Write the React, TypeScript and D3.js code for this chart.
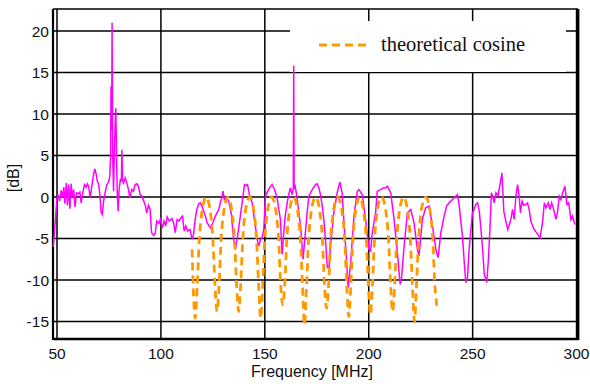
import React from "react";
import * as d3 from "d3";

// Measured spectrum (magenta)
const measFreq = [
  48.2, 49.0, 49.9, 50.5, 51.2, 52.0, 52.6, 53.3, 53.8, 54.5, 55.0, 55.6, 56.2, 56.8, 57.4, 58.0, 58.7, 59.4, 60.2, 61.0,
  61.6, 62.4, 63.2, 64.0, 64.6, 65.2, 66.0, 66.8, 67.5, 68.2, 68.8, 69.4, 70.0, 70.6, 71.2, 71.8, 72.4, 73.2, 74.0, 74.8,
  75.4, 75.8, 76.0, 76.3, 76.5, 76.8, 77.2, 77.6, 78.0, 78.3, 78.7, 79.0, 79.4, 79.9, 80.5, 81.0, 81.2, 81.6, 82.0, 82.8,
  83.6, 84.4, 85.0, 86.0, 86.8, 87.6, 88.4, 89.2, 90.0, 90.8, 91.6, 92.5, 93.2, 94.0, 94.8, 95.5, 96.5, 97.2, 98.0, 99.0,
  99.7, 100.7, 101.5, 102.3, 103.0, 104.0, 105.3, 106.2, 106.9, 107.8, 108.7, 109.6, 110.4, 111.2, 112.0, 112.8, 114.0, 115.0, 115.7, 116.5,
  117.3, 118.1, 118.9, 119.8, 120.6, 121.4, 122.2, 123.0, 123.8, 125.0, 126.2, 127.8, 128.6, 129.4, 129.9, 130.5, 131.5, 132.6, 133.8, 135.0,
  135.8, 136.9, 138.2, 139.5, 140.2, 141.0, 141.7, 142.7, 143.9, 145.0, 146.3, 147.1, 147.9, 148.7, 149.5, 150.3, 151.0, 152.0, 153.5, 154.5,
  155.8, 157.5, 158.3, 159.0, 159.8, 160.7, 161.5, 162.3, 163.1, 163.7, 163.9, 164.1, 164.6, 165.4, 166.2, 167.2, 168.4, 169.5, 170.5, 171.2,
  172.8, 174.4, 175.2, 176.0, 176.8, 177.6, 178.4, 179.3, 180.0, 180.8, 181.6, 183.2, 184.8, 186.1, 187.2, 188.0, 189.3, 190.1, 191.3, 192.9,
  194.5, 195.3, 196.9, 198.5, 200.1, 200.9, 201.7, 203.3, 204.1, 205.7, 207.0, 208.1, 209.0, 210.6, 212.2, 213.8, 215.1, 215.7, 217.0, 218.6,
  220.2, 221.8, 223.4, 224.2, 225.8, 227.4, 229.0, 230.7, 232.3, 233.4, 234.7, 236.3, 237.5, 238.7, 240.3, 241.9, 242.7, 243.5, 245.1, 246.0,
  246.7, 247.5, 248.3, 249.1, 249.9, 250.7, 251.5, 252.4, 253.2, 254.0, 254.8, 255.6, 256.8, 257.6, 258.4, 259.0, 259.8, 260.4, 261.2, 262.2,
  263.3, 264.1, 265.0, 265.8, 266.9, 267.7, 268.4, 269.2, 270.0, 270.8, 271.6, 272.4, 273.0, 273.8, 274.6, 275.6, 276.4, 277.2, 278.0, 279.6,
  281.3, 282.5, 283.7, 284.5, 285.3, 286.4, 287.2, 288.0, 288.8, 290.1, 290.9, 291.7, 292.5, 293.3, 294.4, 295.4, 296.2, 297.3, 298.1, 299.2,
];
const measDb = [
  -6.0, -3.5, -0.3, 0.3, -0.5, 0.8, 0.0, 1.2, -0.8, 1.7, -1.0, 1.5, -1.4, 1.6, 0.0, 0.9, -1.2, 0.5, 0.4, 0.6,
  -0.7, 0.5, 1.5, 1.2, 1.6, 1.3, -0.1, 1.4, 2.6, 3.4, 2.8, 1.9, 1.6, 0.4, -1.8, -2.1, -0.5, 0.6, 1.5, 1.8,
  2.5, 5.0, 13.3, 8.0, 21.0, 5.0, 0.7, 5.5, 9.0, 10.7, 4.0, 0.5, -1.7, 1.0, 2.1, 2.0, 5.7, 2.0, 1.7, 2.3,
  1.7, 0.9, -0.1, 0.9, 0.7, 1.5, 1.6, 1.3, 0.3, 0.1, -0.4, -1.0, -1.9, -1.0, -1.5, -4.3, -4.6, -4.4, -2.9, -3.2,
  -2.7, -3.7, -2.9, -3.5, -2.4, -2.9, -2.6, -3.2, -4.3, -2.7, -2.9, -2.5, -2.3, -4.1, -3.5, -4.1, -3.9, -5.1, -4.5, -2.7,
  -1.5, -0.9, -0.7, -1.1, -1.7, -2.3, -3.1, -3.4, -3.7, -3.1, -2.3, -1.5, -0.7, 0.1, 0.7, -0.3, -0.1, -0.5, -1.9, -5.1,
  -6.3, -4.7, -2.3, 0.1, 1.5, 1.4, 1.5, 0.1, -0.7, -2.7, -5.1, -5.9, -5.1, -4.9, -3.9, 0.1, 0.5, 1.0, 1.5, 1.0,
  0.0, -2.7, -6.9, -4.7, -2.3, -0.8, 0.3, 1.1, 0.3, 1.0, 15.8, 1.0, 1.3, 0.1, -1.5, -3.5, -7.5, -4.3, -1.5, 0.1,
  0.9, 1.5, 1.6, 1.1, 0.3, -1.0, -2.7, -5.5, -8.3, -8.7, -5.9, -1.9, 0.5, 1.8, 0.5, -2.7, -7.5, -10.9, -7.9, -2.3,
  0.7, 0.9, 0.3, -2.7, -6.3, -6.5, -4.3, -1.9, 0.7, 0.9, 1.1, 1.1, 1.3, 0.5, -2.7, -6.7, -10.5, -10.0, -6.0, -1.9,
  -1.5, -3.1, -6.3, -7.1, -2.7, -1.3, -1.1, -3.5, -6.3, -7.3, -4.3, -2.3, -1.1, -0.7, -0.3, 0.1, 0.3, -1.0, -4.7, -8.0,
  -10.3, -9.8, -6.3, -4.1, -1.9, -1.5, -0.9, -0.7, -1.7, -3.9, -6.3, -9.3, -10.3, -7.5, -3.5, 0.5, 0.0, -0.7, 0.5, 0.1,
  1.7, 2.9, -1.7, -2.7, -3.9, -3.3, -2.7, -1.5, -2.7, 0.1, 1.5, 0.1, -1.9, -0.5, -1.0, -0.9, -0.7, -1.5, -2.9, -3.9,
  -4.5, -4.9, -2.9, -0.7, -1.3, -0.7, -1.5, -0.7, -1.3, -2.7, -1.7, 0.1, -0.3, 0.5, 1.3, -0.9, -0.7, -2.7, -2.3, -3.3,
];

// Theoretical cosine (orange dashed)
const cosFreq = [
  115.0, 115.5, 116.5, 117.5, 118.5, 119.5, 120.5, 121.75, 123.0, 124.0, 125.0, 126.0, 127.0, 128.0, 129.0, 130.0, 131.0, 132.2, 133.4, 134.4,
  135.4, 136.4, 137.4, 138.4, 139.4, 140.4, 141.4, 142.7, 144.0, 145.0, 146.0, 147.0, 148.0, 149.0, 150.0, 151.0, 152.0, 153.3, 154.6, 155.6,
  156.6, 157.6, 158.6, 159.6, 160.6, 161.6, 162.6, 163.85, 165.1, 166.1, 167.1, 168.1, 169.1, 170.1, 171.1, 172.1, 173.1, 174.4, 175.7, 176.7,
  177.7, 178.7, 179.7, 180.7, 181.7, 182.7, 183.7, 185.05, 186.4, 187.4, 188.4, 189.4, 190.4, 191.4, 192.4, 193.4, 194.4, 195.6, 196.8, 197.8,
  198.8, 199.8, 200.8, 201.8, 202.8, 203.8, 204.8, 206.15, 207.5, 208.5, 209.5, 210.5, 211.5, 212.5, 213.5, 214.5, 215.5, 216.75, 218.0, 219.0,
  220.0, 221.0, 222.0, 223.0, 224.0, 225.0, 226.0, 227.4, 228.8, 229.8, 230.8, 231.8, 232.8,
];
const cosDb = [
  -6.3, -10.5, -14.6, -10.5, -5.0, -2.2, -0.7, 0, -0.7, -2.2, -5.0, -10.5, -13.8, -10.5, -5.0, -2.2, -0.7, 0, -0.7, -2.2,
  -5.0, -10.5, -13.8, -10.5, -5.0, -2.2, -0.7, 0, -0.7, -2.2, -5.0, -10.5, -14.6, -10.5, -5.0, -2.2, -0.7, 0, -0.7, -2.2,
  -5.0, -10.5, -13.0, -10.5, -5.0, -2.2, -0.7, 0, -0.7, -2.2, -5.0, -10.5, -15.4, -10.5, -5.0, -2.2, -0.7, 0, -0.7, -2.2,
  -5.0, -10.5, -13.4, -10.5, -5.0, -2.2, -0.7, 0, -0.7, -2.2, -5.0, -10.5, -14.4, -10.5, -5.0, -2.2, -0.7, 0, -0.7, -2.2,
  -5.0, -10.5, -14.2, -10.5, -5.0, -2.2, -0.7, 0, -0.7, -2.2, -5.0, -10.5, -13.8, -10.5, -5.0, -2.2, -0.7, 0, -0.7, -2.2,
  -5.0, -10.5, -15.0, -10.5, -5.0, -2.2, -0.7, 0, -0.7, -2.2, -5.0, -10.5, -13.1,
];

const xTicks = [50, 100, 150, 200, 250, 300];
const yTicks = [-15, -10, -5, 0, 5, 10, 15, 20];
const legendLabel = "theoretical cosine";
const xLabel = "Frequency [MHz]";
const yLabel = "[dB]";

const W = 590;
const H = 384;
const L = 53, R = 578, T = 9, B = 339;

export default function App() {
  const x = d3.scaleLinear().domain([48.07, 300.7]).range([L, R]);
  const y = d3.scaleLinear().domain([-17.1, 22.65]).range([B, T]);

  const meas = measFreq.map((f, i) => [f, measDb[i]] as [number, number]);
  const cos = cosFreq.map((f, i) => [f, cosDb[i]] as [number, number]);

  const lineM = d3.line<[number, number]>().x((d) => x(d[0])).y((d) => y(d[1]));
  const lineC = d3
    .line<[number, number]>()
    .x((d) => x(d[0]))
    .y((d) => y(d[1]))
    .curve(d3.curveMonotoneX);

  const sans = "'Liberation Sans', Arial, sans-serif";
  const serif = "'Liberation Serif', 'Times New Roman', serif";

  return (
    <svg
      width={W}
      height={H}
      style={{ position: "absolute", left: 0, top: 0, background: "#fff" }}
    >
      <rect x={0} y={0} width={W} height={H} fill="#fff" />
      {/* grid */}
      {yTicks.map((t) => (
        <line key={"gy" + t} x1={L} x2={R} y1={y(t)} y2={y(t)} stroke="#000" strokeWidth={1.5} />
      ))}
      {xTicks.map((t) => (
        <line key={"gx" + t} x1={x(t)} x2={x(t)} y1={T} y2={B} stroke="#000" strokeWidth={1.5} />
      ))}
      {/* legend box (hides grid) */}
      <rect x={290} y={21} width={276} height={51} fill="#fff" />
      {/* frame */}
      <line x1={L} x2={R} y1={T} y2={T} stroke="#000" strokeWidth={1.5} />
      <line x1={L} x2={L} y1={T} y2={B + 1} stroke="#000" strokeWidth={2.2} />
      <line x1={R} x2={R} y1={T} y2={B + 1} stroke="#000" strokeWidth={2.8} />
      <line x1={L} x2={R + 1} y1={B} y2={B} stroke="#000" strokeWidth={2.4} />

      {/* data */}
      <path d={lineM(meas) || ""} fill="none" stroke="#ff00ff" strokeWidth={1.5} />
      <path
        d={lineC(cos) || ""}
        fill="none"
        stroke="#ff9900"
        strokeWidth={2.8}
        strokeDasharray="8,5"
      />

      {/* legend */}
      <line x1={319} x2={368} y1={45} y2={45} stroke="#ff9900" strokeWidth={2.8} strokeDasharray="8,5" />
      <text x={381} y={51} fontFamily={serif} fontSize={20.5} fill="#111">
        {legendLabel}
      </text>

      {/* tick labels */}
      {yTicks.map((t) => (
        <text
          key={"ly" + t}
          x={49}
          y={y(t)}
          dy="0.36em"
          textAnchor="end"
          fontFamily={sans}
          fontSize={15.5}
          fill="#111"
        >
          {t}
        </text>
      ))}
      {xTicks.map((t) => (
        <text
          key={"lx" + t}
          x={x(t)}
          y={359}
          textAnchor="middle"
          fontFamily={sans}
          fontSize={15.5}
          fill="#111"
        >
          {t}
        </text>
      ))}
      <text x={312} y={377} textAnchor="middle" fontFamily={sans} fontSize={16} fill="#111">
        {xLabel}
      </text>
      <text
        transform={`translate(19,${178}) rotate(-90)`}
        textAnchor="middle"
        fontFamily={sans}
        fontSize={16}
        fill="#111"
      >
        {yLabel}
      </text>
    </svg>
  );
}
